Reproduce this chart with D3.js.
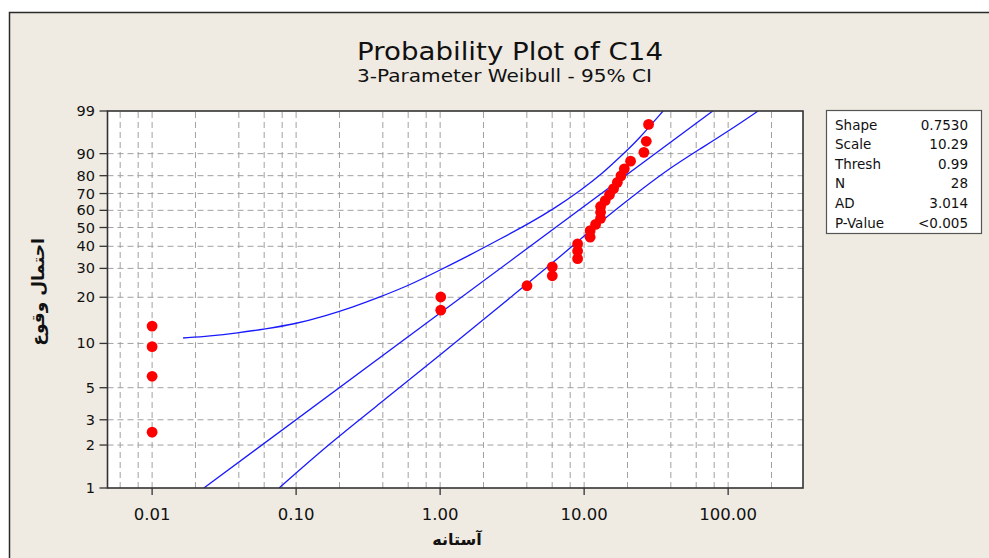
<!DOCTYPE html>
<html><head><meta charset="utf-8">
<script src="https://cdn.jsdelivr.net/npm/d3@7/dist/d3.min.js"></script>
<style>body{margin:0;background:#fff;} svg{display:block;}</style>
</head><body>
<svg id="chart" width="989" height="558"></svg>
<script>
// ---------- data ----------
const titleText = "Probability Plot of C14";
const subtitleText = "3-Parameter Weibull - 95% CI";
const xLabelText = "آستانه";
const yLabelText = "احتمال وقوع";

const xTickValues = [0.01, 0.1, 1, 10, 100];
const xTickLabels = ["0.01", "0.10", "1.00", "10.00", "100.00"];
const xGridValues = [0.006,0.008,0.01,0.02,0.04,0.06,0.08,0.1,0.2,0.4,0.6,0.8,1,2,4,6,8,10,20,40,60,80,100,200];
const yTickValues = [1, 2, 3, 5, 10, 20, 30, 40, 50, 60, 70, 80, 90, 99];

// data minus threshold, and plotted percent
const pointX = [0.01,0.01,0.01,0.01,1.01,1.01,4.01,6.01,6.01,9.01,9.01,9.01,11.01,11.01,12.01,13.01,13.01,13.01,14.01,15.01,16.01,17.01,18.01,19.01,21.01,26.01,27.01,28.01];
const pointPct = [2.46,5.99,9.51,13.03,16.55,20.07,23.59,27.11,30.63,34.15,37.68,41.20,44.72,48.24,51.76,55.28,58.80,62.32,65.85,69.37,72.89,76.41,79.93,83.45,86.97,90.49,94.01,97.54];

// fitted line (ends)
const fitX = [0.02287, 78.21];
const fitPct = [1, 99];

// 95% CI bands
const upperX = [0.01641,0.02528,0.03892,0.0609,0.09835,0.1589,0.2486,0.3591,0.6185,0.9991,1.614,2.607,4.212,6.281,9.368,13.53,17.75,23.68,35.31];
const upperPct = [10.87,11.21,11.74,12.47,13.45,15.17,17.34,19.64,23.84,29.35,35.82,43.73,52.57,61.40,71.49,81.39,88.70,94.36,99];
const lowerX = [0.07617,0.1721,0.4016,0.9991,2.607,6.803,12.90,21.86,37.63,63.78,103.1,161.3];
const lowerPct = [1,2.067,4.049,8.36,17.60,34.90,53.15,68.55,82.89,91.66,96.60,99];

const statLabels = ["Shape","Scale","Thresh","N","AD","P-Value"];
const statValues = ["0.7530","10.29","0.99","28","3.014","<0.005"];

// ---------- drawing ----------
const svg = d3.select("#chart");
const font = "'DejaVu Sans', Verdana, sans-serif";
const L = 107.5, R = 803, T = 111, B = 488;

svg.append("rect").attr("x",9.5).attr("y",12.5).attr("width",1000).attr("height",600)
  .attr("fill","#efebe2").attr("stroke","#2b2b2b").attr("stroke-width",1.5);

const x = d3.scaleLog().domain([0.0049, 331]).range([L, R]);
const weib = p => Math.log(-Math.log(1 - p/100));
const yLin = d3.scaleLinear().domain([weib(1), weib(99)]).range([B, T]);
const y = p => yLin(weib(p));

svg.append("defs").append("clipPath").attr("id","clip")
  .append("rect").attr("x",L).attr("y",T).attr("width",R-L).attr("height",B-T);

svg.append("rect").attr("x",L).attr("y",T).attr("width",R-L).attr("height",B-T).attr("fill","#fff");

const grid = svg.append("g").attr("stroke","#a0a0a0").attr("stroke-width",1).attr("stroke-dasharray","6,4");
grid.selectAll("line.v").data(xGridValues).enter().append("line")
  .attr("x1",d=>x(d)).attr("x2",d=>x(d)).attr("y1",B).attr("y2",T);
grid.selectAll("line.h").data(yTickValues.slice(1,-1)).enter().append("line")
  .attr("y1",d=>y(d)).attr("y2",d=>y(d)).attr("x1",L).attr("x2",R);

const plotG = svg.append("g").attr("clip-path","url(#clip)");
const line = d3.line().x(d=>x(d[0])).y(d=>y(d[1])).curve(d3.curveBasis);
const series = [
  d3.zip(fitX, fitPct),
  d3.zip(upperX, upperPct),
  d3.zip(lowerX, lowerPct)
];
plotG.selectAll("path.band").data(series).enter().append("path")
  .attr("d", line).attr("fill","none").attr("stroke","#1a1aff").attr("stroke-width",1.3);

plotG.selectAll("circle").data(d3.zip(pointX, pointPct)).enter().append("circle")
  .attr("cx",d=>x(d[0])).attr("cy",d=>y(d[1])).attr("r",5.4).attr("fill","#ff0000");

svg.append("rect").attr("x",L).attr("y",T).attr("width",R-L).attr("height",B-T)
  .attr("fill","none").attr("stroke","#333").attr("stroke-width",1.6);

// x axis
const xAxis = svg.append("g");
xAxis.selectAll("line").data(xTickValues).enter().append("line")
  .attr("x1",d=>x(d)).attr("x2",d=>x(d)).attr("y1",B).attr("y2",B+7).attr("stroke","#333").attr("stroke-width",1.3);
xAxis.selectAll("text").data(xTickValues).enter().append("text")
  .attr("x",d=>x(d)).attr("y",B+32).attr("text-anchor","middle")
  .attr("font-family",font).attr("font-size",16.5).attr("fill","#111")
  .text((d,i)=>xTickLabels[i]);

// y axis
const yAxis = svg.append("g");
yAxis.selectAll("line").data(yTickValues).enter().append("line")
  .attr("y1",d=>y(d)).attr("y2",d=>y(d)).attr("x1",L-8).attr("x2",L).attr("stroke","#333").attr("stroke-width",1.3);
yAxis.selectAll("text").data(yTickValues).enter().append("text")
  .attr("x",95).attr("y",d=>y(d)+5).attr("text-anchor","end")
  .attr("font-family",font).attr("font-size",14.5).attr("fill","#111")
  .text(d=>d);

// titles
svg.append("text").attr("x",357).attr("y",60).attr("font-family",font).attr("font-size",25)
  .attr("textLength",306).attr("lengthAdjust","spacingAndGlyphs").attr("fill","#111").text(titleText);
svg.append("text").attr("x",357).attr("y",82).attr("font-family",font).attr("font-size",18)
  .attr("textLength",295).attr("lengthAdjust","spacingAndGlyphs").attr("fill","#111").text(subtitleText);

svg.append("text").attr("x",457).attr("y",545).attr("text-anchor","middle").attr("direction","rtl")
  .attr("font-family",font).attr("font-weight","bold").attr("font-size",16).attr("fill","#111").text(xLabelText);
svg.append("text").attr("transform","translate(44,292) rotate(-90)").attr("text-anchor","middle")
  .attr("font-family",font).attr("font-weight","bold").attr("font-size",17).attr("fill","#111").text(yLabelText);

// stats box
svg.append("rect").attr("x",826.5).attr("y",110.5).attr("width",155).attr("height",123)
  .attr("fill","#fff").attr("stroke","#555").attr("stroke-width",1.2);
const st = svg.append("g").attr("font-family",font).attr("font-size",13.5).attr("fill","#111");
st.selectAll("text.l").data(statLabels).enter().append("text")
  .attr("x",835).attr("y",(d,i)=>129.5+i*19.6).text(d=>d);
st.selectAll("text.v").data(statValues).enter().append("text")
  .attr("x",968).attr("y",(d,i)=>129.5+i*19.6).attr("text-anchor","end").text(d=>d);
</script>
</body></html>
